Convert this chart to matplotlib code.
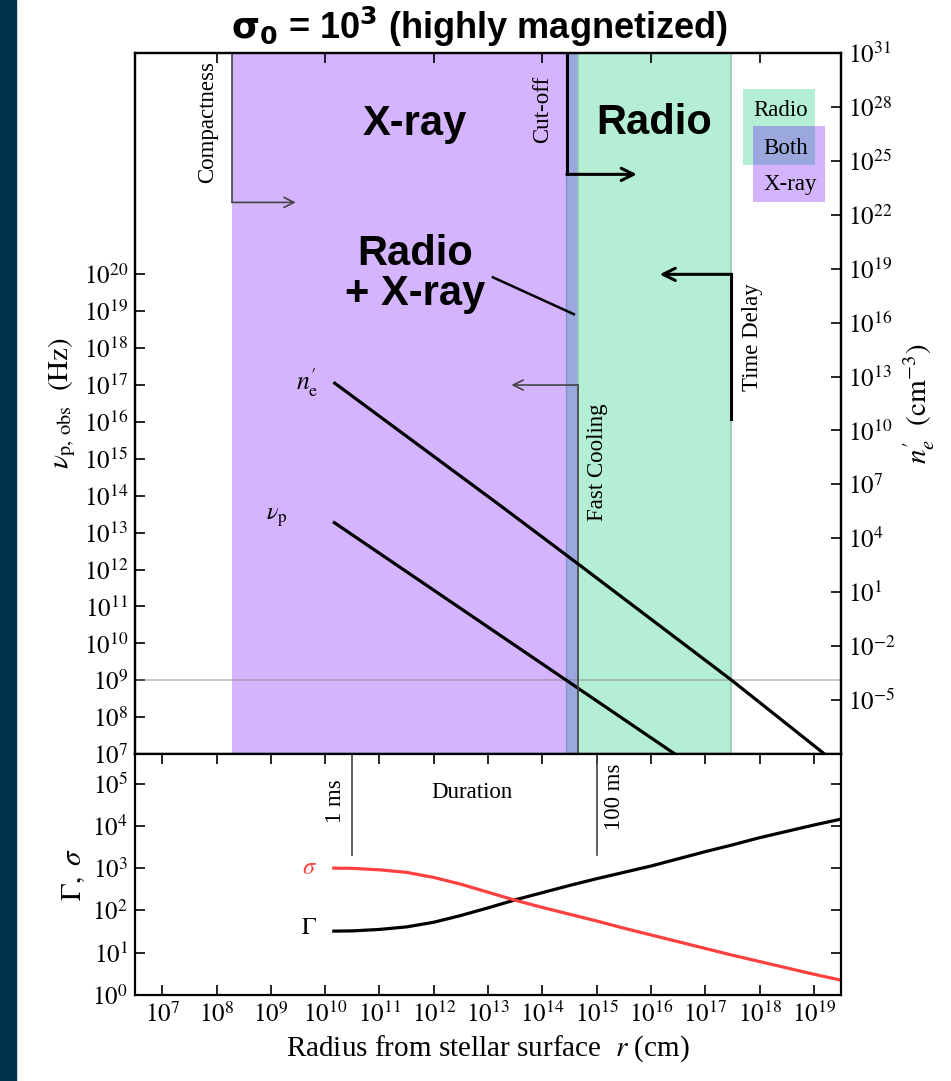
import numpy as np
import matplotlib.pyplot as plt
from matplotlib.patches import Rectangle

plt.rcParams['font.family'] = ['Liberation Serif', 'DejaVu Serif']
plt.rcParams['mathtext.fontset'] = 'stix'
plt.rcParams['axes.linewidth'] = 1.6

# values (log10)
nu_log_r = [10.17, 16.50]
nu_log_v = [13.27, 6.94]

ne_log_r = [10.177, 13.214, 14.645, 17.483, 19.17, 19.5]
ne_log_n = [12.63, 5.847, 2.603, -3.89, -7.94, -8.74]

gs_log_r = [10.16, 10.5, 11.0, 11.5, 12.0, 12.5, 13.0, 13.5, 14.0, 14.5, 15.0,
            15.5, 16.0, 16.5, 17.0, 17.5, 18.0, 18.5, 19.0, 19.5]
gamma_log = [1.51, 1.515, 1.55, 1.61, 1.72, 1.88, 2.06, 2.25, 2.42, 2.59, 2.75,
             2.90, 3.05, 3.22, 3.39, 3.55, 3.72, 3.87, 4.02, 4.16]
sigma_log = [3.0, 2.995, 2.96, 2.90, 2.78, 2.62, 2.43, 2.24, 2.07, 1.91, 1.75,
             1.58, 1.42, 1.26, 1.10, 0.94, 0.79, 0.64, 0.49, 0.35]

# regions (log10 r)
xray_range = (8.28, 14.44)
both_range = (14.44, 14.65)
radio_range = (14.65, 17.48)

purple = '#d3b4fd'
green = '#b3eed5'
blue = '#9ba8de'
tick_fs = 18
txt_fs = 16.5

fig = plt.figure(figsize=(9.51, 10.81), dpi=100)
fig.patches.append(Rectangle((0, 0), 16 / 951, 1, transform=fig.transFigure,
                             color='#00344e', zorder=-5))

ax = fig.add_axes([0.142, 0.3025, 0.7424, 0.6485])
ax2 = ax.twinx()
axb = fig.add_axes([0.142, 0.0796, 0.7424, 0.2229])

# 上面板
ax.set_xscale('log')
ax.set_yscale('log')
ax.set_xlim(10**6.5, 10**19.5)
ax.set_ylim(1e7, 1e26)
ax.axvspan(10**xray_range[0], 10**xray_range[1], color=purple, lw=0, zorder=0)
ax.axvspan(10**both_range[0], 10**both_range[1], fc=blue, ec='#8592c8', lw=1, zorder=0)
ax.axvspan(10**radio_range[0], 10**radio_range[1], fc=green, ec='#93c9b2', lw=1.2, zorder=0)
ax.axhline(1e9, color='gray', alpha=0.5, lw=1.2)

ax.plot(10**np.array(nu_log_r), 10**np.array(nu_log_v), color='k', lw=2.3)

ax.set_yticks([10.0**k for k in range(7, 21)])
ax.set_yticklabels([r'$10^{%d}$' % k for k in range(7, 21)])
ax.minorticks_off()
ax.tick_params(which='both', direction='in', length=7, width=1.2, labelsize=tick_fs,
               top=True, bottom=False, labelbottom=False, pad=5)
ax.set_ylabel(r'$\nu_{\rm p,\,obs}\ \ ({\rm Hz})$', fontsize=21)

ax2.set_yscale('log')
ax2.set_ylim(1e-8, 1e31)
ax2.plot(10**np.array(ne_log_r), 10**np.array(ne_log_n), color='k', lw=2.3)
ax2.set_yticks([10.0**k for k in range(-5, 32, 3)])
ax2.set_yticklabels([r'$10^{%d}$' % k for k in range(-5, 32, 3)])
ax2.minorticks_off()
ax2.tick_params(which='both', direction='in', length=7, width=1.2, labelsize=tick_fs, pad=5)
ax2.set_ylabel(r"$n^{\prime}_{e}\ \ ({\rm cm}^{-3})$", fontsize=21)

# annotation lines
def bent_arrow(a, x, y_from, y_to, x_to, color, lw, ms):
    a.plot([10**x, 10**x], [10**y_from, 10**y_to], color=color, lw=lw)
    a.annotate('', xy=(10**x_to, 10**y_to), xytext=(10**x, 10**y_to),
               arrowprops=dict(arrowstyle='->', color=color, lw=lw,
                               shrinkA=0, shrinkB=0, mutation_scale=ms))

bent_arrow(ax, 8.28, 26, 21.95, 9.46, '#444444', 1.2, 18)
bent_arrow(ax, 14.45, 26, 22.71, 15.74, 'k', 2.2, 22)
bent_arrow(ax, 17.48, 16.08, 20.0, 16.16, 'k', 2.2, 22)
bent_arrow(ax, 14.65, 7, 17.0, 13.43, '#444444', 1.2, 18)
ax.plot([10**13.09, 10**14.58], [10**19.92, 10**18.92], color='k', lw=1.8)

ax.text(10**7.84, 10**24.13, 'Compactness', rotation=90, ha='center', va='center', fontsize=txt_fs)
ax.text(10**14.0, 10**24.48, 'Cut-off', rotation=90, ha='center', va='center', fontsize=txt_fs)
ax.text(10**17.87, 10**18.31, 'Time Delay', rotation=90, ha='center', va='center', fontsize=txt_fs)
ax.text(10**15.02, 10**14.92, 'Fast Cooling', rotation=90, ha='center', va='center', fontsize=txt_fs)

big = dict(family=['Liberation Sans', 'DejaVu Sans'], fontweight='bold', fontsize=30,
           ha='center', va='center')
ax.text(10**11.65, 10**24.07, 'X-ray', **big)
ax.text(10**16.05, 10**24.1, 'Radio', **big)
ax.text(10**11.65, 10**20.0, 'Radio\n+ X-ray', linespacing=1.0, **big)

ax.text(10**9.1, 10**13.43, r'$\nu_{\rm p}$', ha='center', va='center', fontsize=txt_fs + 1)
ax2.text(10**9.68, 10**12.64, r"$n^{\prime}_{\rm e}$", ha='center', va='center', fontsize=txt_fs + 2)

# legend boxes
ax.add_patch(Rectangle((0.8616, 0.8402), 0.1016, 0.1080, transform=ax.transAxes,
                       color=green, lw=0, zorder=3))
ax.add_patch(Rectangle((0.8758, 0.7879), 0.1015, 0.1080, transform=ax.transAxes,
                       color=purple, lw=0, zorder=3))
ax.add_patch(Rectangle((0.8758, 0.8402), 0.0874, 0.0557, transform=ax.transAxes,
                       color=blue, lw=0, zorder=4))
ax.text(0.9144, 0.9177, 'Radio', transform=ax.transAxes, ha='center', va='center', fontsize=txt_fs, zorder=5)
ax.text(0.9215, 0.8641, 'Both', transform=ax.transAxes, ha='center', va='center', fontsize=txt_fs, zorder=5)
ax.text(0.9278, 0.8117, 'X-ray', transform=ax.transAxes, ha='center', va='center', fontsize=txt_fs, zorder=5)

# 下面板
axb.set_xscale('log')
axb.set_yscale('log')
axb.set_xlim(10**6.5, 10**19.5)
axb.set_ylim(1, 10**5.7)
axb.plot(10**np.array(gs_log_r), 10**np.array(gamma_log), color='k', lw=2.3)
axb.plot(10**np.array(gs_log_r), 10**np.array(sigma_log), color='#ff4040', lw=2.3)
axb.set_xticks([10.0**k for k in range(7, 20)])
axb.set_xticklabels([r'$10^{%d}$' % k for k in range(7, 20)])
axb.set_yticks([10.0**k for k in range(0, 6)])
axb.set_yticklabels([r'$10^{%d}$' % k for k in range(0, 6)])
axb.minorticks_off()
axb.tick_params(which='both', direction='in', length=7, width=1.2, labelsize=tick_fs,
                top=True, right=True, pad=5)
axb.set_ylabel(r'$\Gamma,\ \sigma$', fontsize=21)
axb.set_xlabel(r'Radius from stellar surface  $r$ (cm)', fontsize=21)

for x, lab, tx, ty in [(10.50, '1 ms', 10.20, 4.59), (15.0, '100 ms', 15.33, 4.69)]:
    axb.plot([10**x, 10**x], [10**5.7, 10**3.31], color='#444444', lw=1.2)
    axb.text(10**tx, 10**ty, lab, rotation=90, ha='center', va='center', fontsize=txt_fs)
axb.text(10**12.70, 10**4.78, 'Duration', ha='center', va='center', fontsize=txt_fs)
axb.text(10**9.71, 10**3.0, r'$\sigma$', color='#ff4040', ha='center', va='center', fontsize=txt_fs + 1)
axb.text(10**9.71, 10**1.58, r'$\Gamma$', ha='center', va='center', fontsize=txt_fs + 1)

fig.text(479 / 951, 1 - 27 / 1081, r'$\mathbf{\sigma_0}$ = 10$^\mathbf{3}$ (highly magnetized)',
         family=['Liberation Sans', 'DejaVu Sans'], fontweight='bold', fontsize=26,
         math_fontfamily='dejavusans', ha='center', va='center')

fig.savefig('out.png', dpi=100)
